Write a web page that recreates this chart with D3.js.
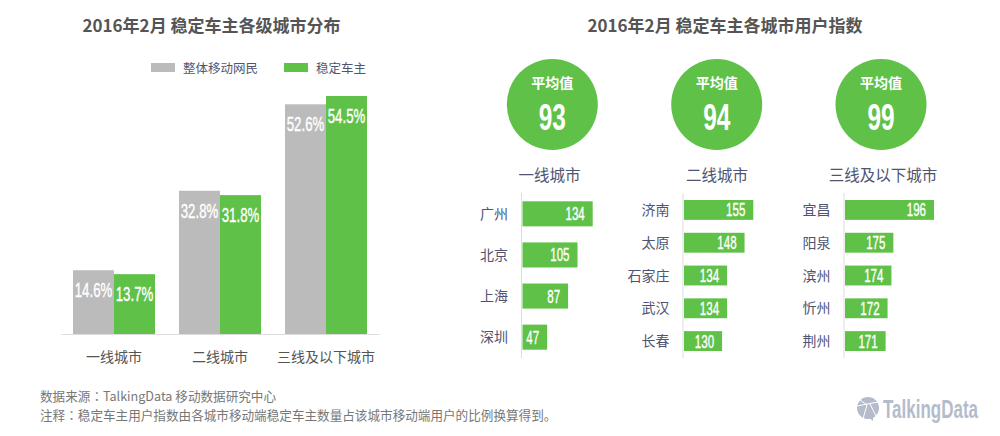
<!DOCTYPE html>
<html>
<head>
<meta charset="utf-8">
<script src="https://cdn.jsdelivr.net/npm/d3@7"></script>
<style>
html, body { margin: 0; padding: 0; background: #fff; }
svg { display: block; }
text { font-family: "Noto Sans CJK SC", sans-serif; }
.num { font-family: "Liberation Sans", sans-serif; font-weight: 400; fill: #fff; stroke: #fff; stroke-width: 0.4; }
.big { font-weight: 700; stroke: none; }
</style>
</head>
<body>
<div id="chart"></div>
<script>
var GREEN = '#60c148', GRAY = '#bbbbbb', NAVY = '#4f5470', DARK = '#555555', LOGO = '#b4bccb';

// left chart data
var tiers = ['一线城市', '二线城市', '三线及以下城市'];
var mobileUsers = [14.6, 32.8, 52.6];
var stableOwners = [13.7, 31.8, 54.5];
var seriesNames = ['整体移动网民', '稳定车主'];

// right chart data
var averages = [93, 94, 99];
var cities1 = ['广州', '北京', '上海', '深圳'];
var index1 = [134, 105, 87, 47];
var cities2 = ['济南', '太原', '石家庄', '武汉', '长春'];
var index2 = [155, 148, 134, 134, 130];
var cities3 = ['宜昌', '阳泉', '滨州', '忻州', '荆州'];
var index3 = [196, 175, 174, 172, 171];

var svg = d3.select('#chart').append('svg').attr('width', 1000).attr('height', 436);

// squeezes a number label to look like the condensed face in the original
var condensed = function(g, x, y, str, size, sx, anchor) {
    return g.append('text').attr('class', 'num')
        .attr('transform', 'translate(' + x + ',' + y + ') scale(' + sx + ',1)')
        .attr('text-anchor', anchor || 'middle')
        .attr('font-size', size)
        .text(str);
};

svg.append('text').attr('x', 211.5).attr('y', 32).attr('text-anchor', 'middle')
    .attr('font-size', 17).attr('font-weight', 700).attr('fill', DARK)
    .text('2016年2月 稳定车主各级城市分布');
svg.append('text').attr('x', 725).attr('y', 32).attr('text-anchor', 'middle')
    .attr('font-size', 17).attr('font-weight', 700).attr('fill', DARK)
    .text('2016年2月 稳定车主各城市用户指数');

// grouped bars
var x0 = d3.scaleBand().domain(tiers).range([61, 379]).paddingInner(24 / 106).paddingOuter(12 / 106);
var x1 = d3.scaleBand().domain([0, 1]).range([0, x0.bandwidth()]);
var y = d3.scaleLinear().domain([0, 54.5]).range([334, 96]);

var barGroups = svg.selectAll('.tier').data(tiers).enter().append('g')
    .attr('class', 'tier')
    .attr('transform', function(d) { return 'translate(' + x0(d) + ',0)'; });

[mobileUsers, stableOwners].forEach(function(values, s) {
    barGroups.append('rect')
        .attr('x', x1(s))
        .attr('y', function(d, i) { return y(values[i]); })
        .attr('width', x1.bandwidth())
        .attr('height', function(d, i) { return 334 - y(values[i]); })
        .attr('fill', s === 0 ? GRAY : GREEN);
    barGroups.each(function(d, i) {
        condensed(d3.select(this), x1(s) + x1.bandwidth() / 2, y(values[i]) + 27,
            values[i].toFixed(1) + '%', 21, 0.63);
    });
});

var xAxis = d3.axisBottom(x0).tickSize(0).tickPadding(18);
var xAxisG = svg.append('g').attr('transform', 'translate(0,334)').call(xAxis);
xAxisG.select('.domain').attr('stroke', '#dddddd');
xAxisG.selectAll('text').attr('font-size', 14).attr('fill', '#555').style('font-family', '"Noto Sans CJK SC"');

// legend
var legend = [[151, 183], [284, 316]];
seriesNames.forEach(function(name, i) {
    svg.append('rect').attr('x', legend[i][0]).attr('y', 63).attr('width', 24).attr('height', 9)
        .attr('fill', i === 0 ? GRAY : GREEN);
    svg.append('text').attr('x', legend[i][1]).attr('y', 72.5).attr('font-size', 12.5).attr('fill', NAVY).text(name);
});

// one column on the right: circle, heading and its own bar scale
// (the bars in the original are not drawn from zero in columns 2 and 3)
var columns = [
    { label: tiers[0], avg: averages[0], cities: cities1, values: index1, left: 522.5, min: 0, max: 134, end: 592.7, h: 25, step: 41, top: 201.3, bottom: 349.7, cx: 552.3, hx: 549.5 },
    { label: tiers[1], avg: averages[1], cities: cities2, values: index2, left: 684, min: 99.5, max: 155, end: 753.3, h: 20, step: 33, top: 200, bottom: 351, cx: 716.7, hx: 717 },
    { label: tiers[2], avg: averages[2], cities: cities3, values: index3, left: 845, min: 150, max: 196, end: 934, h: 20, step: 33, top: 200, bottom: 351, cx: 881, hx: 883 }
];

columns.forEach(function(c) {
    var g = svg.append('g');
    g.append('circle').attr('cx', c.cx).attr('cy', 104.5).attr('r', 45.5).attr('fill', GREEN);
    g.append('text').attr('x', c.cx).attr('y', 88).attr('text-anchor', 'middle')
        .attr('font-size', 14).attr('font-weight', 700).attr('fill', '#fff').text('平均值');
    condensed(g, c.cx, 129.5, c.avg, 37, 0.66).classed('big', true);
    g.append('text').attr('x', c.hx).attr('y', 181).attr('text-anchor', 'middle')
        .attr('font-size', 15.5).attr('fill', NAVY).text(c.label);

    var sx = d3.scaleLinear().domain([c.min, c.max]).range([c.left, c.end]);
    var sy = d3.scaleBand().domain(c.cities).range([c.top, c.bottom]).paddingInner(1 - c.h / c.step);

    g.append('line').attr('x1', c.left - 1).attr('x2', c.left - 1).attr('y1', 193).attr('y2', 358)
        .attr('stroke', '#dddddd');
    c.cities.forEach(function(name, i) {
        var cy = sy(name) + sy.bandwidth() / 2;
        var right = sx(c.values[i]);
        g.append('rect').attr('x', c.left).attr('y', sy(name))
            .attr('width', right - c.left).attr('height', sy.bandwidth()).attr('fill', GREEN);
        g.append('text').attr('x', c.left - 14.5).attr('y', cy + 5).attr('text-anchor', 'end')
            .attr('font-size', 14).attr('fill', NAVY).text(name);
        condensed(g, right - 8, cy + 6.5, c.values[i], 18, 0.64, 'end');
    });
});

// footnotes, the colon is taken from the TC font because it sits mid-height there
var footnote = function(yPos, head, rest) {
    var t = svg.append('text').attr('x', 40).attr('y', yPos).attr('font-size', 12.6).attr('fill', '#777');
    t.append('tspan').text(head);
    t.append('tspan').style('font-family', '"Noto Sans CJK TC"').text('：');
    t.append('tspan').text(rest);
};
footnote(401, '数据来源', 'TalkingData 移动数据研究中心');
footnote(419.5, '注释', '稳定车主用户指数由各城市移动端稳定车主数量占该城市移动端用户的比例换算得到。');

// logo
var logo = svg.append('g').attr('transform', 'translate(868,408)');
logo.append('circle').attr('r', 11).attr('fill', LOGO);
logo.append('path').attr('d', 'M0,9 L5,13 L5,8 Z').attr('fill', LOGO);
logo.append('path').attr('d', 'M-11,-2 L10,-6 M-1,-3 L-5,11 M-8,-8 L-1,-3 M2,-4 L8,8')
    .attr('stroke', '#fff').attr('stroke-width', 1).attr('fill', 'none');
logo.append('text').attr('class', 'num big')
    .attr('transform', 'translate(15,10) scale(0.68,1)')
    .attr('font-size', 25).style('fill', LOGO).text('TalkingData');
</script>
</body>
</html>
